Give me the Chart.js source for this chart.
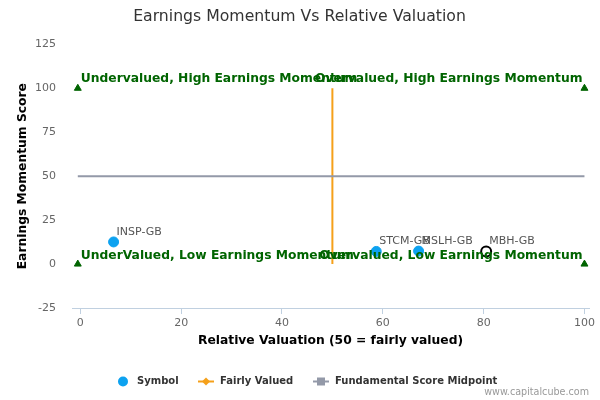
<!DOCTYPE html>
<html>
<head>
<meta charset="utf-8">
<script src="https://cdn.jsdelivr.net/npm/chart.js@4"></script>
<style>
  body { margin: 0; background: #fff; }
  #wrap { width: 600px; height: 400px; position: relative; }
</style>
</head>
<body>
<div id="wrap"><canvas id="chart"></canvas></div>
<script>
// symbols on the chart
const symbols = ['INSP-GB', 'STCM-GB', 'MSLH-GB', 'MBH-GB'];
const valuation = [6.6, 58.7, 67.1, 80.5];
const momentum = [12.6, 7.2, 7.4, 7.2];
const focusSymbol = 'MBH-GB';

// reference lines
const fairX = [50, 50];
const fairY = [0, 100];
const midX = [-0.5, 100];
const midY = [50, 50];

// quadrant labels and corner markers
const quadrantLabels = ['Undervalued, High Earnings Momentum', 'Overvalued, High Earnings Momentum',
                        'UnderValued, Low Earnings Momentum', 'Overvalued, Low Earnings Momentum'];
const quadrantX = [-0.5, 100, -0.5, 100];
const quadrantY = [100, 100, 0, 0];

const xTicks = [0, 20, 40, 60, 80, 100];
const legendNames = ['Symbol', 'Fairly Valued', 'Fundamental Score Midpoint'];

const font = "'DejaVu Sans', sans-serif";

const quadPlugin = {
    id: 'quad',
    afterDatasetsDraw(chart) {
        const ctx = chart.ctx;
        const xs = chart.scales.x, ys = chart.scales.y;
        ctx.save();
        // point labels
        ctx.font = '11px ' + font;
        ctx.fillStyle = '#555';
        ctx.textAlign = 'left';
        ctx.textBaseline = 'middle';
        for (let i = 0; i < symbols.length; i++) {
            ctx.fillText(symbols[i], xs.getPixelForValue(valuation[i]) + 3, ys.getPixelForValue(momentum[i]) - 10);
        }
        // quadrant text
        ctx.font = 'bold 12.3px ' + font;
        ctx.fillStyle = '#006400';
        ctx.textBaseline = 'alphabetic';
        for (let i = 0; i < quadrantLabels.length; i++) {
            const px = xs.getPixelForValue(quadrantX[i]);
            const py = ys.getPixelForValue(quadrantY[i]);
            if (i % 2 === 0) {
                ctx.textAlign = 'left';
                ctx.fillText(quadrantLabels[i], px + 3, py - (i < 2 ? 6 : 5));
            } else {
                ctx.textAlign = 'right';
                ctx.fillText(quadrantLabels[i], px - 2, py - (i < 2 ? 6 : 5));
            }
        }
        ctx.restore();
    },
    afterDraw(chart) {
        const ctx = chart.ctx;
        ctx.save();
        // legend
        ctx.font = 'bold 10px ' + font;
        ctx.textBaseline = 'middle';
        ctx.textAlign = 'left';
        const ly = 381.5;
        // Symbol
        ctx.fillStyle = '#0DA2F0';
        ctx.beginPath(); ctx.arc(123, ly, 5, 0, Math.PI * 2); ctx.fill();
        ctx.fillStyle = '#333';
        ctx.fillText(legendNames[0], 137, ly);
        // Fairly Valued
        ctx.strokeStyle = '#F5A01A'; ctx.lineWidth = 2;
        ctx.beginPath(); ctx.moveTo(198, ly); ctx.lineTo(214, ly); ctx.stroke();
        ctx.fillStyle = '#F5A01A';
        ctx.beginPath(); ctx.moveTo(206, ly - 4); ctx.lineTo(210, ly); ctx.lineTo(206, ly + 4); ctx.lineTo(202, ly); ctx.fill();
        ctx.fillStyle = '#333';
        ctx.fillText(legendNames[1], 220, ly);
        // Midpoint
        ctx.strokeStyle = '#9399A8';
        ctx.beginPath(); ctx.moveTo(313, ly); ctx.lineTo(329, ly); ctx.stroke();
        ctx.fillStyle = '#9399A8';
        ctx.fillRect(317, ly - 4, 8, 8);
        ctx.fillStyle = '#333';
        ctx.fillText(legendNames[2], 335, ly);
        // credits
        ctx.font = '9.6px ' + font;
        ctx.fillStyle = '#999';
        ctx.textAlign = 'right';
        ctx.fillText('www.capitalcube.com', 589, 392);
        ctx.restore();
    }
};

const symbolColors = symbols.map(s => s === focusSymbol ? '#fff' : '#0DA2F0');
const symbolBorders = symbols.map(s => s === focusSymbol ? '#000' : '#0DA2F0');
const symbolBorderWidth = symbols.map(s => s === focusSymbol ? 2 : 1);

new Chart(document.getElementById('chart'), {
    type: 'scatter',
    data: {
        datasets: [{
            label: 'Fundamental Score Midpoint',
            data: midX.map((x, i) => ({x: x, y: midY[i]})),
            showLine: true,
            borderColor: '#9399A8',
            borderWidth: 2,
            pointRadius: 0
        }, {
            label: 'Fairly Valued',
            data: fairX.map((x, i) => ({x: x, y: fairY[i]})),
            showLine: true,
            borderColor: '#F5A01A',
            borderWidth: 2,
            pointRadius: 0
        }, {
            label: 'Quadrants',
            data: quadrantX.map((x, i) => ({x: x, y: quadrantY[i]})),
            pointStyle: 'triangle',
            pointRadius: 4,
            backgroundColor: '#006400',
            borderColor: '#006400'
        }, {
            label: 'Symbol',
            data: valuation.map((x, i) => ({x: x, y: momentum[i]})),
            pointRadius: 5,
            pointHoverRadius: 5,
            backgroundColor: symbolColors,
            borderColor: symbolBorders,
            borderWidth: symbolBorderWidth
        }]
    },
    options: {
        responsive: true,
        maintainAspectRatio: false,
        animation: false,
        layout: {
            padding: {left: 10, right: 11, top: 0, bottom: 48}
        },
        plugins: {
            legend: { display: false },
            tooltip: { enabled: false },
            title: {
                display: true,
                text: 'Earnings Momentum Vs Relative Valuation',
                color: '#333',
                font: { family: font, size: 15.7, weight: 'normal' },
                padding: { top: 8, bottom: 17.5 }
            }
        },
        scales: {
            x: {
                min: -1.65,
                max: 100.9,
                afterBuildTicks: (axis) => { axis.ticks = xTicks.map(v => ({value: v})); },
                grid: {
                    display: true,
                    drawOnChartArea: false,
                    drawTicks: true,
                    tickLength: 6,
                    color: '#C0D0E0'
                },
                border: { color: '#C0D0E0' },
                ticks: { color: '#666', font: { family: font, size: 11 }, padding: 3 },
                title: {
                    display: true,
                    text: 'Relative Valuation (50 = fairly valued)',
                    color: '#000',
                    font: { family: font, size: 12.3, weight: 'bold' },
                    padding: { top: 0 }
                }
            },
            y: {
                min: -25,
                max: 125,
                afterFit: (axis) => { axis.width = 62; },
                ticks: { stepSize: 25, color: '#666', font: { family: font, size: 11 }, padding: 8 },
                grid: { display: false },
                border: { display: false },
                title: {
                    display: true,
                    text: 'Earnings Momentum Score',
                    color: '#000',
                    font: { family: font, size: 12.3, weight: 'bold' },
                    padding: { top: 5, bottom: 4 }
                }
            }
        }
    },
    plugins: [quadPlugin]
});
</script>
</body>
</html>
